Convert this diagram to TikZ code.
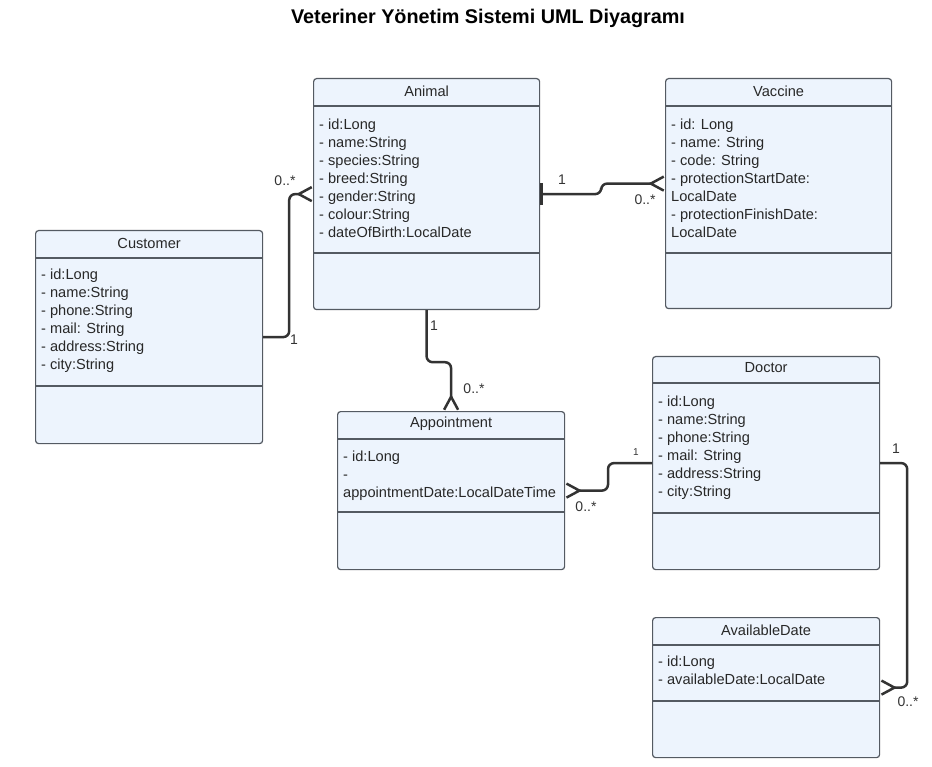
\documentclass[tikz,border=0pt]{standalone}
\usepackage{fontspec}
\setmainfont{Liberation Sans}
\usetikzlibrary{arrows.meta, positioning}
\definecolor{boxfill}{RGB}{237,244,253}
\definecolor{boxline}{RGB}{84,90,98}
\definecolor{linkgray}{RGB}{51,51,51}
\definecolor{textgray}{RGB}{40,40,40}
\tikzset{crow/.tip={Straight Barb[reversed, length=13pt, width=14pt]}}

\begin{document}
\begin{tikzpicture}[x=1pt, y=-1pt,
    classbox/.style={draw=boxline, fill=boxfill, line width=1.2pt, rounded corners=3pt, anchor=north west, inner sep=0pt},
    divider/.style={draw=boxline, line width=1.2pt},
    header/.style={font=\fontsize{14.6}{18}\selectfont, text=textgray, inner sep=0pt},
    fields/.style={anchor=north west, align=left, inner sep=0pt, text=textgray, font=\fontsize{14.6}{18}\selectfont},
    link/.style={draw=linkgray, line width=2.5pt, rounded corners=6pt},
    mult/.style={font=\fontsize{14}{16}\selectfont, text=linkgray, inner sep=0pt}]
    \useasboundingbox (0,0) rectangle (932,767);

    % Title
    \node[font=\fontsize{19.8}{22}\selectfont\bfseries, inner sep=0pt] (title) at (488,18) {Veteriner Yönetim Sistemi UML Diyagramı};

    % Animal
    \node[classbox, minimum width=226pt, minimum height=231pt] (animal) at (313,78) {};
    \draw[divider] ([yshift=-28pt]animal.north west) -- ([yshift=-28pt]animal.north east);
    \draw[divider] ([yshift=-175pt]animal.north west) -- ([yshift=-175pt]animal.north east);
    \node[header] (animal-name) at ([yshift=-13pt]animal.north) {Animal};
    \node[fields] (animal-attr) at ([xshift=6pt, yshift=-41pt]animal.north west) {- id:Long\\- name:String\\- species:String\\- breed:String\\- gender:String\\- colour:String\\- dateOfBirth:LocalDate};

    % Vaccine
    \node[classbox, minimum width=226pt, minimum height=230pt] (vaccine) at (665,78) {};
    \draw[divider] ([yshift=-28pt]vaccine.north west) -- ([yshift=-28pt]vaccine.north east);
    \draw[divider] ([yshift=-175pt]vaccine.north west) -- ([yshift=-175pt]vaccine.north east);
    \node[header] (vaccine-name) at ([yshift=-13pt]vaccine.north) {Vaccine};
    \node[fields] (vaccine-attr) at ([xshift=6pt, yshift=-41pt]vaccine.north west) {- id: Long\\- name: String\\- code: String\\- protectionStartDate:\\LocalDate\\- protectionFinishDate:\\LocalDate};

    % Customer
    \node[classbox, minimum width=227pt, minimum height=213pt] (customer) at (35,230) {};
    \draw[divider] ([yshift=-28pt]customer.north west) -- ([yshift=-28pt]customer.north east);
    \draw[divider] ([yshift=-156pt]customer.north west) -- ([yshift=-156pt]customer.north east);
    \node[header] (customer-name) at ([yshift=-13pt]customer.north) {Customer};
    \node[fields] (customer-attr) at ([xshift=6pt, yshift=-39pt]customer.north west) {- id:Long\\- name:String\\- phone:String\\- mail: String\\- address:String\\- city:String};

    % Appointment
    \node[classbox, minimum width=227pt, minimum height=158pt] (appointment) at (337,411) {};
    \draw[divider] ([yshift=-28pt]appointment.north west) -- ([yshift=-28pt]appointment.north east);
    \draw[divider] ([yshift=-101pt]appointment.north west) -- ([yshift=-101pt]appointment.north east);
    \node[header] (appointment-name) at ([yshift=-13pt]appointment.north) {Appointment};
    \node[fields] (appointment-attr) at ([xshift=6pt, yshift=-40pt]appointment.north west) {- id:Long\\-\\appointmentDate:LocalDateTime};

    % Doctor
    \node[classbox, minimum width=227pt, minimum height=213pt] (doctor) at (652,356) {};
    \draw[divider] ([yshift=-27pt]doctor.north west) -- ([yshift=-27pt]doctor.north east);
    \draw[divider] ([yshift=-157pt]doctor.north west) -- ([yshift=-157pt]doctor.north east);
    \node[header] (doctor-name) at ([yshift=-12pt]doctor.north) {Doctor};
    \node[fields] (doctor-attr) at ([xshift=6pt, yshift=-40pt]doctor.north west) {- id:Long\\- name:String\\- phone:String\\- mail: String\\- address:String\\- city:String};

    % AvailableDate
    \node[classbox, minimum width=227pt, minimum height=140pt] (availdate) at (652,617) {};
    \draw[divider] ([yshift=-28pt]availdate.north west) -- ([yshift=-28pt]availdate.north east);
    \draw[divider] ([yshift=-84pt]availdate.north west) -- ([yshift=-84pt]availdate.north east);
    \node[header] (availdate-name) at ([yshift=-13pt]availdate.north) {AvailableDate};
    \node[fields] (availdate-attr) at ([xshift=6pt, yshift=-39pt]availdate.north west) {- id:Long\\- availableDate:LocalDate};

    % Associations
    \draw[link, -{crow}] (customer.east) -- ++(26,0) |- (animal.west);
    \draw[link, {Bar[width=22pt]}-{crow}] (animal.east) -- ++(61,0) |- ([yshift=10pt]vaccine.west);
    \draw[link, -{crow}] (animal.south) -- ++(0,52) -| (appointment.north);
    \draw[link, -{crow}] (doctor.west) -- ++(-44,0) |- (appointment.east);
    \draw[link, -{crow}] (doctor.east) -- ++(27,0) |- (availdate.east);

    % Multiplicities
    \node[mult] (m-cust) at (294,340) {1};
    \node[mult] (m-anim-cust) at (285,181) {0..*};
    \node[mult] (m-anim-vac) at (562,180) {1};
    \node[mult] (m-vac) at (645,200) {0..*};
    \node[mult] (m-anim-app) at (434,326) {1};
    \node[mult] (m-app-anim) at (474,389) {0..*};
    \node[mult, font=\fontsize{10}{12}\selectfont] (m-doc-app) at (636,452) {1};
    \node[mult] (m-app-doc) at (586,507) {0..*};
    \node[mult] (m-doc-avail) at (896,449) {1};
    \node[mult] (m-avail) at (908,702) {0..*};
\end{tikzpicture}
\end{document}
